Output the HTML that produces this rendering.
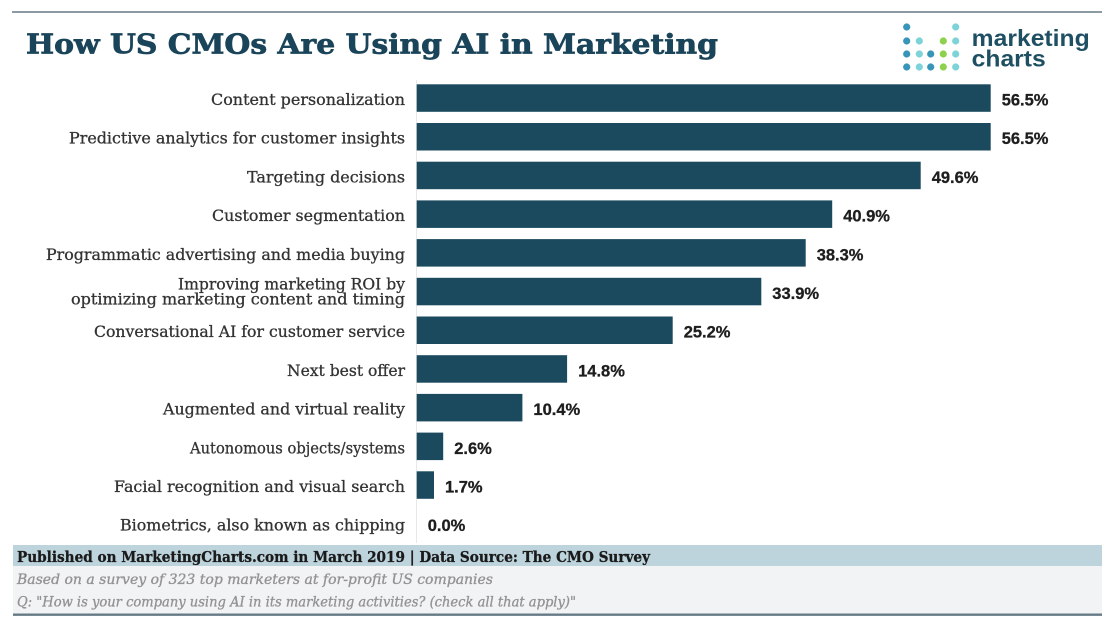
<!DOCTYPE html>
<html>
<head>
<meta charset="utf-8">
<style>
html,body{margin:0;padding:0;background:#fff;}
svg{display:block;}
</style>
</head>
<body>
<svg width="1117" height="626" viewBox="0 0 1117 626" xmlns="http://www.w3.org/2000/svg">
<rect width="1117" height="626" fill="#fff"/>
<!-- top rule -->
<line x1="12" y1="12" x2="1102" y2="12" stroke="#8c9ba3" stroke-width="2"/>
<!-- title -->
<text x="26" y="53.3" font-family="DejaVu Serif, Liberation Serif, serif" font-weight="bold" font-size="27.5" fill="#1a4459" stroke="#1a4459" stroke-width="0.7" textLength="692" lengthAdjust="spacingAndGlyphs">How US CMOs Are Using AI in Marketing</text>

<!-- logo dots -->
<g>
<circle cx="906.7" cy="27" r="3.6" fill="#3795b8"/>
<circle cx="955.7" cy="27" r="3.6" fill="#7dd3d8"/>
<circle cx="906.7" cy="41" r="3.6" fill="#3795b8"/>
<circle cx="919.3" cy="41" r="3.6" fill="#7dd3d8"/>
<circle cx="943.3" cy="41" r="3.6" fill="#8fd14f"/>
<circle cx="955.7" cy="41" r="3.6" fill="#7dd3d8"/>
<circle cx="906.7" cy="54" r="3.6" fill="#3795b8"/>
<circle cx="919.3" cy="54" r="3.6" fill="#7dd3d8"/>
<circle cx="930.7" cy="54" r="3.6" fill="#3795b8"/>
<circle cx="943.3" cy="54" r="3.6" fill="#8fd14f"/>
<circle cx="955.7" cy="54" r="3.6" fill="#7dd3d8"/>
<circle cx="906.7" cy="67" r="3.6" fill="#3795b8"/>
<circle cx="919.3" cy="67" r="3.6" fill="#7dd3d8"/>
<circle cx="930.7" cy="67" r="3.6" fill="#3795b8"/>
<circle cx="943.3" cy="67" r="3.6" fill="#8fd14f"/>
<circle cx="955.7" cy="67" r="3.6" fill="#7dd3d8"/>
</g>
<text x="971.7" y="46" font-family="Liberation Sans, sans-serif" font-weight="bold" font-size="23" fill="#1f4f63" textLength="118" lengthAdjust="spacingAndGlyphs">marketing</text>
<text x="971.7" y="66.5" font-family="Liberation Sans, sans-serif" font-weight="bold" font-size="23" fill="#1f4f63" textLength="74" lengthAdjust="spacingAndGlyphs">charts</text>

<!-- axis line -->
<line x1="416.5" y1="80" x2="416.5" y2="543" stroke="#e8e8e8" stroke-width="1"/>

<!-- bars -->
<g fill="#1b4a5f">
<rect x="416.7" y="84.3" width="574" height="27.5"/>
<rect x="416.7" y="123" width="574" height="27.5"/>
<rect x="416.7" y="161.7" width="504" height="27.5"/>
<rect x="416.7" y="200.4" width="415.5" height="27.5"/>
<rect x="416.7" y="239.1" width="389" height="27.5"/>
<rect x="416.7" y="277.8" width="344.6" height="27.5"/>
<rect x="416.7" y="316.5" width="256" height="27.5"/>
<rect x="416.7" y="355.2" width="150.4" height="27.5"/>
<rect x="416.7" y="393.9" width="105.7" height="27.5"/>
<rect x="416.7" y="432.6" width="26.5" height="27.5"/>
<rect x="416.7" y="471.3" width="17.3" height="27.5"/>
</g>

<!-- category labels -->
<g font-family="DejaVu Serif, Liberation Serif, serif" font-size="16" fill="#333" stroke="#333" stroke-width="0.3" text-anchor="end">
<text x="405" y="105" textLength="194" lengthAdjust="spacingAndGlyphs">Content personalization</text>
<text x="405" y="143.7" textLength="336" lengthAdjust="spacingAndGlyphs">Predictive analytics for customer insights</text>
<text x="405" y="182.4" textLength="158" lengthAdjust="spacingAndGlyphs">Targeting decisions</text>
<text x="405" y="221.1" textLength="193" lengthAdjust="spacingAndGlyphs">Customer segmentation</text>
<text x="405" y="259.8" textLength="359" lengthAdjust="spacingAndGlyphs">Programmatic advertising and media buying</text>
<text x="405" y="289.5" textLength="227" lengthAdjust="spacingAndGlyphs">Improving marketing ROI by</text>
<text x="405" y="304.5" textLength="334" lengthAdjust="spacingAndGlyphs">optimizing marketing content and timing</text>
<text x="405" y="337.2" textLength="311" lengthAdjust="spacingAndGlyphs">Conversational AI for customer service</text>
<text x="405" y="375.9" textLength="118" lengthAdjust="spacingAndGlyphs">Next best offer</text>
<text x="405" y="414.6" textLength="242" lengthAdjust="spacingAndGlyphs">Augmented and virtual reality</text>
<text x="405" y="453.3" textLength="215" lengthAdjust="spacingAndGlyphs">Autonomous objects/systems</text>
<text x="405" y="492" textLength="291" lengthAdjust="spacingAndGlyphs">Facial recognition and visual search</text>
<text x="405" y="530.7" textLength="285" lengthAdjust="spacingAndGlyphs">Biometrics, also known as chipping</text>
</g>

<!-- value labels -->
<g font-family="Liberation Sans, Arial, sans-serif" font-weight="bold" font-size="16.5" fill="#1e1e1e" stroke="#1e1e1e" stroke-width="0.3">
<text x="1001.7" y="105.5">56.5%</text>
<text x="1001.7" y="144.2">56.5%</text>
<text x="931.7" y="182.9">49.6%</text>
<text x="843.2" y="221.6">40.9%</text>
<text x="816.7" y="260.3">38.3%</text>
<text x="772.3" y="299">33.9%</text>
<text x="683.7" y="337.7">25.2%</text>
<text x="578.1" y="376.4">14.8%</text>
<text x="533.4" y="415.1">10.4%</text>
<text x="454.2" y="453.8">2.6%</text>
<text x="445" y="492.5">1.7%</text>
<text x="427.7" y="531.2">0.0%</text>
</g>

<!-- footer -->
<rect x="13" y="545" width="1089" height="21" fill="#bdd4dd"/>
<rect x="13" y="566" width="1089" height="47.5" fill="#f2f3f5"/>
<line x1="13" y1="614.7" x2="1102" y2="614.7" stroke="#647a85" stroke-width="2.4"/>
<text x="17" y="562" font-family="DejaVu Serif, Liberation Serif, serif" font-weight="bold" font-size="15" fill="#1a1a1a" stroke="#1a1a1a" stroke-width="0.3" textLength="633" lengthAdjust="spacingAndGlyphs">Published on MarketingCharts.com in March 2019 | Data Source: The CMO Survey</text>
<text x="17" y="584" font-family="DejaVu Serif, Liberation Serif, serif" font-style="italic" font-size="14" fill="#939393" stroke="#939393" stroke-width="0.35" textLength="476" lengthAdjust="spacingAndGlyphs">Based on a survey of 323 top marketers at for-profit US companies</text>
<text x="17" y="606.5" font-family="DejaVu Serif, Liberation Serif, serif" font-style="italic" font-size="14" fill="#939393" stroke="#939393" stroke-width="0.35" textLength="559" lengthAdjust="spacingAndGlyphs">Q: "How is your company using AI in its marketing activities? (check all that apply)"</text>
</svg>
</body>
</html>
